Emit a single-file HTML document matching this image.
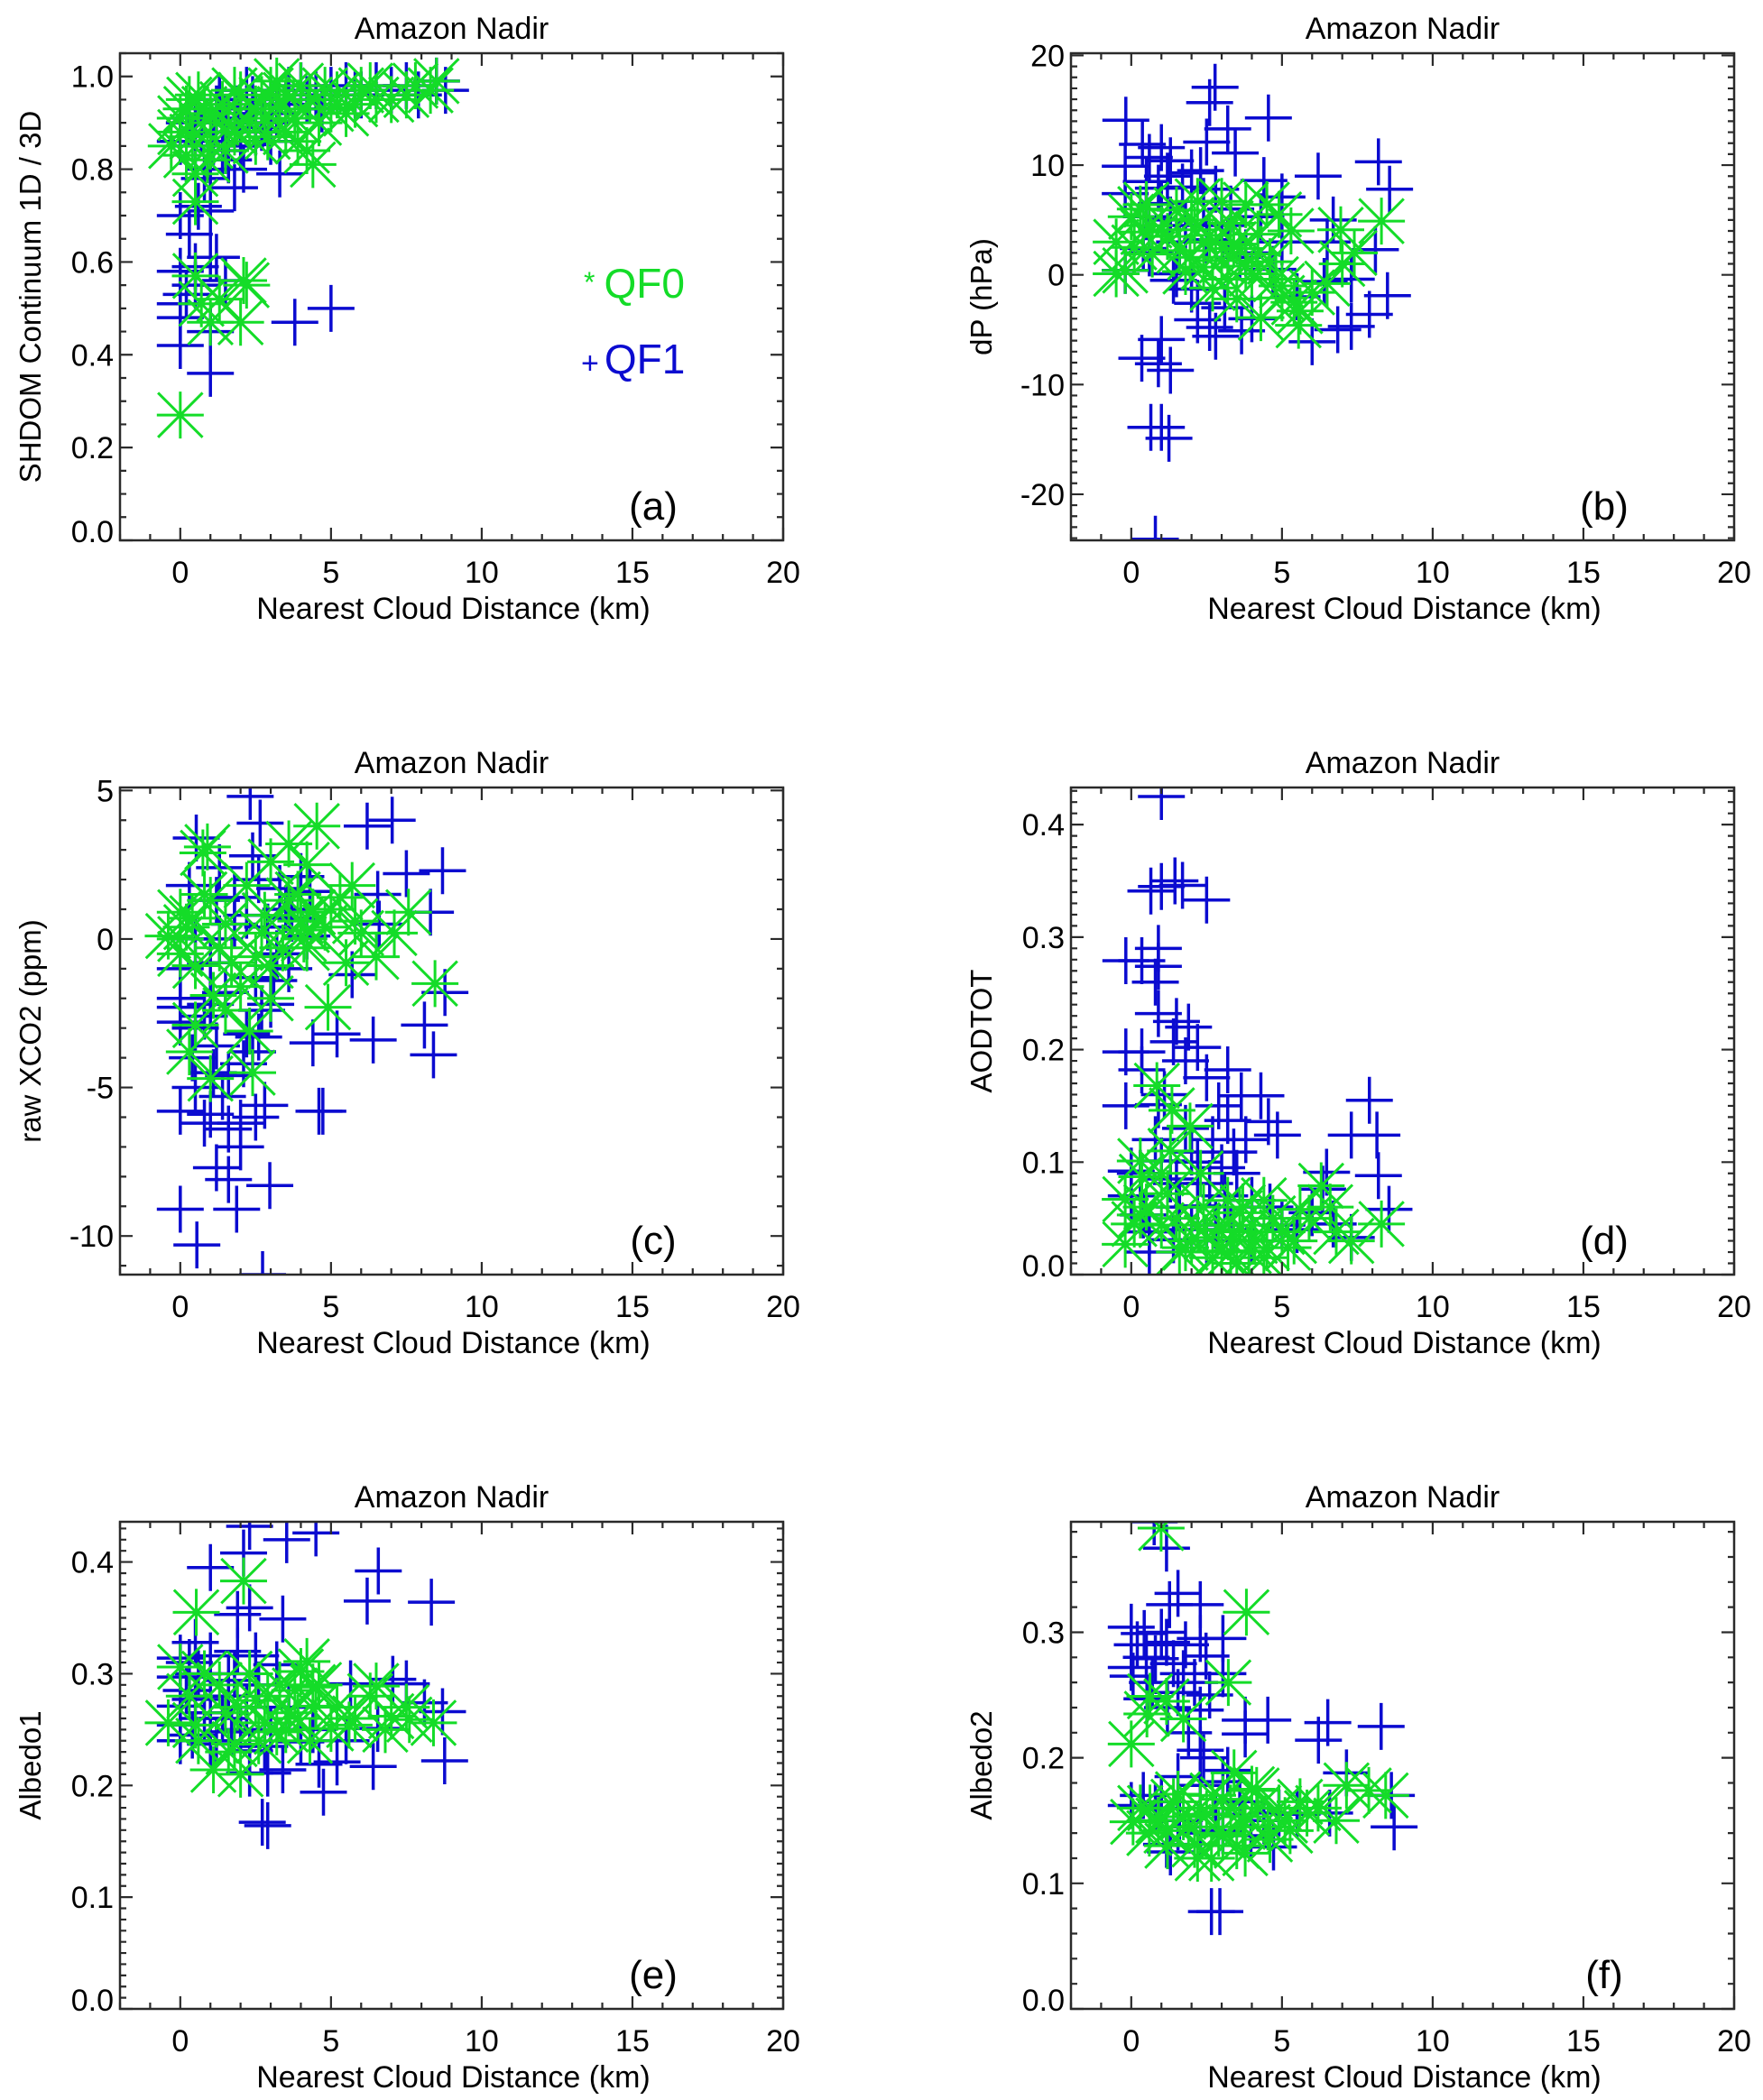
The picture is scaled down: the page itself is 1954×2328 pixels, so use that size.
<!DOCTYPE html>
<html><head><meta charset="utf-8"><title>Amazon Nadir panels</title>
<style>
html,body{margin:0;padding:0;background:#fff;}
svg{display:block;font-family:"Liberation Sans",Arial,sans-serif;}
</style></head>
<body>
<svg id="fig" width="1954" height="2328" viewBox="0 0 1954 2328" xmlns="http://www.w3.org/2000/svg"></svg>
<script>
// ---------- data ----------
const xTicks = [0, 5, 10, 15, 20];
const xRange = [-2, 20];

// panel (a) SHDOM Continuum 1D/3D
const aQF0x = [0,0,0,-0.3,0.2,0.5,0.5,0.3,0.5,0.7,1,1.3,2,2.1,2.2,1,1.5,2,2.5,3,3.5,4,4.4,4.2,3.5,5,5.5,6,7,7.5,8.5,8.3,2.8,3.2,4.8,1.2,1.8,2.5,0.8,6.5,
  0.2,0.6,1.0,1.4,1.8,2.3,2.7,3.3,3.8,4.3,4.6,5.2,5.8,6.3,0.4,0.9,1.6,2.9,3.9,7.8];
const aQF0y = [0.27,0.88,0.91,0.85,0.83,0.79,0.73,0.95,0.57,0.51,0.47,0.52,0.47,0.56,0.55,0.85,0.84,0.96,0.93,0.97,0.96,0.98,0.81,0.84,0.88,0.93,0.92,0.97,0.95,0.96,0.99,0.97,0.91,0.99,0.97,0.9,0.88,0.86,0.93,0.95,
  0.93,0.96,0.92,0.94,0.97,0.90,0.95,0.93,0.91,0.95,0.90,0.96,0.94,0.98,0.87,0.82,0.90,0.87,0.86,0.98];
const aQF1x = [0,0,0,0,0.3,0.5,0,1,1,1.5,0.5,3.8,5,0,0.5,1,1.5,2,2.5,3,3.5,1.2,2,2.5,3.3,0.8,1.6,4,4.5,5.5,6.5,7,8.5,8.8,6,3,2.2,1.8,0.5,1,4.7,2.7,1.3,
  0.3,0.7,1.1,1.5,1.9,2.4,2.8,3.2,3.6,4.2,5,5.8,7.5,1.4,2.1,0.6,1.2,0.2,1.0,7.9];
const aQF1y = [0.58,0.51,0.48,0.42,0.66,0.55,0.7,0.36,0.61,0.56,0.59,0.47,0.5,0.86,0.85,0.80,0.88,0.90,0.92,0.95,0.94,0.93,0.85,0.88,0.79,0.78,0.82,0.98,0.96,0.98,0.98,0.97,0.99,0.97,0.96,0.86,0.97,0.76,0.91,0.71,0.93,0.89,0.95,
  0.9,0.88,0.86,0.91,0.93,0.95,0.9,0.92,0.97,0.95,0.97,0.96,0.98,0.84,0.8,0.72,0.61,0.53,0.45,0.96];
const aYTicks = [0.0,0.2,0.4,0.6,0.8,1.0];
const aYLabels = ["0.0","0.2","0.4","0.6","0.8","1.0"];

// panel (b) dP (hPa)
const bQF0x = [0.4,0,-0.5,-0.2,1.95,1.0,2.2,3.0,3.8,4.5,3.6,4.2,5.3,6.95,8.3,7.4,4.3,5.55,5.0,6.0,2.8,1.5,0.5,3.2,2.4,4.0,4.8,0.7,-0.5,3.3,2.1,5.6,
  0.1,0.6,1.2,1.6,2.0,2.6,3.0,3.4,3.8,4.2,4.6,5.0,5.4,2.7,3.5,1.8,0.3,4.9,6.5,7.0];
const bQF0y = [3.9,5.3,3.0,0.4,1.6,4.1,6.7,6.7,6.4,6.4,2.4,1.9,4.0,4.1,4.9,2.0,-3.9,-4.6,-2.1,-1.6,3.0,5.9,6.4,-0.4,0.7,0.1,-0.4,1.9,0.1,4.7,4.1,-3.3,
  2.5,4.5,3.5,2.2,5.0,3.6,1.3,2.8,0.8,3.7,1.2,-1.0,-2.5,-1.2,-2.2,0.3,6.0,5.5,-0.8,1.0];
const bQF1x = [2.78,2.6,4.55,-0.18,3.2,0.37,1.0,0.6,2.5,3.45,-0.2,2.0,6.2,8.2,8.57,1.3,4.4,5.0,0.9,-0.2,2.4,6.7,3.2,8.1,7.3,6.4,-0.2,1.5,2.0,7.9,8.5,7.3,6.85,6.0,3.66,2.2,2.8,1.0,0.35,0.9,1.3,0.65,1.0,1.25,0.8,4.3,1.3,1.6,0.4,3.6,5.0,0.5,
  0.5,1.2,1.7,2.3,2.8,3.3,1.0,1.8,2.5,3.0,3.8,4.7,1.4,2.2,2.6,3.1,0.6,5.5,6.5,4.0];
const bQF1y = [17.1,15.7,14.3,14.1,13.3,11.9,11.6,10.7,12.1,11.1,9.9,9.3,9.0,10.3,7.8,10.4,8.6,7.1,7.9,7.4,6.7,5.0,3.0,2.3,-0.4,-0.6,0.4,0.1,-1.3,-3.6,-1.9,-4.7,-5.0,-6.1,-5.1,-4.1,-5.6,-5.9,-7.6,-8.1,-8.7,-13.9,-13.9,-14.9,-24.1,5.3,5.0,3.0,2.4,1.6,3.0,5.3,
  8.5,9.0,8.0,9.5,7.8,6.0,6.5,4.5,3.2,4.5,2.0,0.5,-0.5,-2.6,-4.8,-3.0,2.0,-2.0,3.0,-4.0];
const bYTicks = [-20,-10,0,10,20];
const bYLabels = ["-20","-10","0","10","20"];

// panel (c) raw XCO2 (ppm)
const cQF0x = [4.53,0.75,4.2,5.7,7.57,0,-0.4,0,0.4,1.0,4.0,4.2,5.0,5.8,7.1,6.5,5.5,8.45,4.9,4.2,3.0,2.0,1.5,0.3,2.4,1.0,3.0,2.7,3.6,0.5,1.3,0,
  0.2,0.8,1.5,2.2,2.8,3.4,3.9,4.4,4.8,5.3,1.7,1.1,0.5,2.3,3.0,6.0,0.9,3.6,4.1,2.5];
const cQF0y = [3.8,2.9,2.5,1.8,0.9,0.9,0.1,-0.5,0.7,1.3,0.6,0.3,1.0,0.6,0.2,-0.6,-0.8,-1.5,-2.3,-0.3,-0.9,-1.6,-2.4,-3.8,-4.5,-4.7,2.6,0.2,1.3,-0.9,-0.3,0.0,
  0.4,1.5,0.5,1.8,0.8,-0.3,1.5,0.9,0.4,1.4,-0.8,-1.9,-2.9,-3.1,-2.0,0.2,3.1,3.2,0.0,-0.6];
const cQF1x = [2.32,2.65,0.53,6.2,7.03,7.5,8.7,8.3,6.55,8.78,8.1,8.4,6.4,5.2,4.4,4.6,4.73,2.97,1.6,1.2,0,1.87,0.55,2.73,0,1.0,1.6,2.0,2.8,0.5,1.1,2.4,0.5,0,0,1.0,2.2,1.5,2.5,3.6,5.7,6.6,3.2,4.0,2.6,1.8,1.2,3.3,3.7,0.5,4.2,2.2,0.0,1.3,2.7,
  0,0.4,0.8,1.2,1.6,2.1,2.6,3.0,1.4,0.8,2.0,2.5,1.0,1.8,2.9,3.5,4.3,0.3,2.4,3.1,1.3];
const cQF1y = [4.8,3.9,3.4,3.8,4.0,2.2,2.3,0.9,1.5,-1.8,-2.9,-3.9,-3.4,-3.2,-3.5,-5.8,-5.8,-8.3,-8.1,-7.7,-9.1,-9.1,-10.3,-11.3,-5.8,-5.9,-6.4,-6.2,-5.6,-5.0,-4.5,-3.8,-3.0,-2.3,-2.8,-2.2,-3.2,-1.8,-1.3,-1.0,-1.2,0.5,-0.5,2.1,2.0,1.4,1.3,1.7,0.7,0.0,0.1,0.8,-1.0,0.0,-2.4,
  -2.0,-4.0,-2.6,-3.6,-4.6,-4.2,-3.3,-2.2,-5.3,-6.2,-7.0,-6.0,-0.8,0.5,0.4,1.0,1.6,1.8,2.8,-1.4,2.4];
const cYTicks = [-10,-5,0,5];
const cYLabels = ["-10","-5","0","5"];

// panel (d) AODTOT
const dQF0x = [0.85,1.35,1.95,0.35,-0.2,0.3,-0.2,1.8,2.5,3.4,3.9,3.6,4.0,4.4,5.6,6.3,7.3,8.3,5.0,4.5,3.0,1.0,1.2,3.2,2.2,5.2,6.8,0.3,
  0.5,1.0,1.5,2.0,2.4,2.9,3.3,3.7,4.1,4.7,5.4,5.9,1.6,2.7,3.5,0.1,1.3,2.3,6.6,4.4];
const dQF0y = [0.168,0.146,0.132,0.087,0.067,0.053,0.027,0.024,0.033,0.038,0.021,0.055,0.044,0.066,0.058,0.079,0.030,0.045,0.038,0.024,0.021,0.044,0.072,0.066,0.044,0.024,0.038,0.101,
  0.06,0.09,0.05,0.03,0.06,0.04,0.02,0.06,0.03,0.05,0.03,0.05,0.02,0.015,0.01,0.045,0.11,0.09,0.06,0.015];
const dQF1x = [1.0,1.0,0.65,1.45,1.7,2.5,-0.18,0.35,0.9,0.8,0.9,0.9,1.5,1.9,1.4,2.2,-0.18,0.35,0.35,3.2,2.5,4.3,3.65,-0.18,0.9,3.2,4.85,4.55,7.9,7.3,8.15,8.2,8.55,6.48,6.35,6.7,6.0,7.3,5.0,4.0,3.0,2.0,1.0,0,0,0.6,1.4,2.6,2.2,3.4,1.5,0.4,2.8,
  0.3,0.8,1.3,1.8,2.2,2.7,3.1,3.5,1.6,2.0,2.5,3.3,4.0,4.6,5.5,0.6,1.1,1.8,2.9,3.8];
const dQF1y = [0.425,0.345,0.341,0.35,0.346,0.333,0.279,0.279,0.274,0.26,0.29,0.232,0.225,0.22,0.207,0.202,0.198,0.198,0.182,0.182,0.175,0.159,0.159,0.150,0.151,0.137,0.124,0.136,0.155,0.124,0.124,0.088,0.058,0.091,0.076,0.045,0.055,0.033,0.044,0.066,0.095,0.109,0.101,0.092,0.07,0.038,0.031,0.081,0.061,0.109,0.081,0.053,0.044,
  0.09,0.12,0.085,0.13,0.1,0.12,0.07,0.09,0.06,0.04,0.03,0.04,0.03,0.06,0.04,0.02,0.16,0.19,0.15,0.12];
const dYTicks = [0.0,0.1,0.2,0.3,0.4];
const dYLabels = ["0.0","0.1","0.2","0.3","0.4"];

// panel (e) Albedo1
const eQF0x = [2.1,0.53,0,-0.4,1.1,0.5,4.2,3.8,6.5,7.6,8.4,5.6,4.5,5.0,2.5,3.6,1.8,3.2,4.0,7.0,1.5,2.8,4.4,
  0.3,0.8,1.3,1.9,2.3,2.9,3.3,3.9,4.6,5.2,5.8,6.3,0.6,1.6,2.6,3.5,4.3,6.8,7.5,2.0];
const eQF0y = [0.383,0.355,0.306,0.256,0.214,0.254,0.311,0.285,0.289,0.259,0.256,0.254,0.271,0.251,0.276,0.265,0.237,0.248,0.302,0.262,0.265,0.256,0.288,
  0.28,0.3,0.29,0.27,0.3,0.28,0.29,0.26,0.29,0.27,0.26,0.28,0.24,0.23,0.24,0.25,0.24,0.25,0.27,0.21];
const eQF1x = [2.3,3.53,4.5,2.1,1.0,6.57,6.2,8.33,3.4,1.9,2.3,0.5,0,1.0,2.5,3.2,0,0,0,1.0,1.7,2.3,2.9,3.4,2.3,4.0,4.6,4.75,5.2,6.4,5.65,7.05,7.5,8.1,8.7,8.77,6.55,2.72,2.9,1.6,1.0,0.5,
  0.2,0.6,1.0,1.4,1.8,2.2,2.6,3.0,0.4,1.2,2.0,3.6,0,0.8,1.6,2.8,4.4,0.3,1.9,5.5];
const eQF1y = [0.432,0.42,0.426,0.408,0.395,0.392,0.365,0.364,0.349,0.353,0.359,0.328,0.314,0.316,0.316,0.308,0.297,0.271,0.254,0.265,0.248,0.231,0.211,0.214,0.211,0.239,0.219,0.194,0.221,0.217,0.291,0.295,0.291,0.274,0.266,0.222,0.251,0.167,0.164,0.294,0.237,0.277,
  0.285,0.3,0.28,0.26,0.3,0.27,0.29,0.25,0.245,0.24,0.25,0.27,0.24,0.26,0.28,0.235,0.25,0.31,0.32,0.24];
const eYTicks = [0.0,0.1,0.2,0.3,0.4];
const eYLabels = ["0.0","0.1","0.2","0.3","0.4"];

// panel (f) Albedo2
const fQF0x = [0.99,3.82,0,0.52,0.62,1.17,1.73,3.22,0.06,0.62,1.17,2.1,2.29,3.04,3.78,3.78,4.9,5.83,7.14,8.44,3.04,4.53,1.73,1.55,4.16,2.66,5.27,7.88,3.41,
  0.3,0.9,1.4,1.9,2.5,2.9,3.3,3.7,4.2,4.6,5.1,5.6,6.2,2.2,3.5,4.0,0.6,1.2,6.8,2.7];
const fQF0y = [0.383,0.316,0.211,0.235,0.249,0.245,0.231,0.26,0.149,0.160,0.142,0.131,0.160,0.167,0.153,0.124,0.160,0.156,0.178,0.170,0.138,0.145,0.153,0.171,0.174,0.12,0.142,0.174,0.188,
  0.16,0.15,0.165,0.145,0.155,0.14,0.16,0.145,0.16,0.135,0.15,0.165,0.16,0.12,0.13,0.175,0.14,0.13,0.15,0.17];
const fQF1x = [0.76,1.17,1.55,1.27,2.29,0,0.43,1.17,2.29,3.04,0,0.06,0.8,1.73,2.48,3.04,0.52,1.55,2.29,3.78,4.53,3.78,6.52,6.21,8.29,1.55,3.04,2.29,0,0.8,1.55,3.04,3.97,4.9,6.58,7.14,8.63,8.72,4.72,2.66,2.94,1.17,2.29,
  0.2,0.5,1.0,1.4,1.8,2.1,2.6,0.7,1.2,1.9,2.4,3.2,0.4,1.0,1.6,2.3,2.8,3.6,4.4,5.5,1.3];
const fQF1y = [0.388,0.367,0.331,0.322,0.322,0.304,0.299,0.292,0.295,0.295,0.272,0.265,0.279,0.267,0.281,0.267,0.247,0.252,0.238,0.23,0.23,0.219,0.228,0.214,0.225,0.185,0.181,0.178,0.162,0.160,0.145,0.142,0.138,0.156,0.156,0.188,0.170,0.145,0.129,0.0775,0.0775,0.131,0.206,
  0.29,0.28,0.3,0.275,0.29,0.26,0.25,0.26,0.24,0.22,0.2,0.19,0.17,0.165,0.15,0.14,0.155,0.165,0.15,0.155,0.125];
const fYTicks = [0.0,0.1,0.2,0.3];
const fYLabels = ["0.0","0.1","0.2","0.3"];

// ---------- rendering ----------
const NS = "http://www.w3.org/2000/svg";
const svg = document.getElementById("fig");
const GREEN = "#14dc28", BLUE = "#0b0bd0", AX = "#2a2a2a";
function mk(tag, parent) { const e = document.createElementNS(NS, tag); parent.appendChild(e); return e; }

const panels = [
  {id:"a", left:133, top:59, ymin:0, ymax:1.05, minor:0.05, yt:aYTicks, yl:aYLabels, ytitle:"SHDOM Continuum 1D / 3D", g:[aQF0x,aQF0y], b:[aQF1x,aQF1y], legend:true},
  {id:"b", left:1187, top:59, ymin:-24.2, ymax:20.2, minor:1, yt:bYTicks, yl:bYLabels, ytitle:"dP (hPa)", g:[bQF0x,bQF0y], b:[bQF1x,bQF1y]},
  {id:"c", left:133, top:873, ymin:-11.3, ymax:5.1, minor:1, yt:cYTicks, yl:cYLabels, ytitle:"raw XCO2 (ppm)", g:[cQF0x,cQF0y], b:[cQF1x,cQF1y]},
  {id:"d", left:1187, top:873, ymin:0, ymax:0.433, minor:0.01, yt:dYTicks, yl:dYLabels, ytitle:"AODTOT", g:[dQF0x,dQF0y], b:[dQF1x,dQF1y]},
  {id:"e", left:133, top:1687, ymin:0, ymax:0.436, minor:0.01, yt:eYTicks, yl:eYLabels, ytitle:"Albedo1", g:[eQF0x,eQF0y], b:[eQF1x,eQF1y]},
  {id:"f", left:1187, top:1687, ymin:0, ymax:0.388, minor:0.02, yt:fYTicks, yl:fYLabels, ytitle:"Albedo2", g:[fQF0x,fQF0y], b:[fQF1x,fQF1y]}
];
const W = 735, H = 540, MS = 26, SW = 3.5;

panels.forEach(p => {
  const g = mk("g", svg);
  
  
  const L = p.left, T = p.top, R = L + W, B = T + H;
  const sx = v => L + (v - xRange[0]) / (xRange[1] - xRange[0]) * W;
  const sy = v => B - (v - p.ymin) / (p.ymax - p.ymin) * H;

  const cp = mk("clipPath", g); cp.setAttribute("id", "clip-" + p.id);
  const cr = mk("rect", cp); cr.setAttribute("x", L); cr.setAttribute("y", T); cr.setAttribute("width", W); cr.setAttribute("height", H);

  const t = mk("text", g);
  
  
  t.setAttribute("x", L + W / 2); t.setAttribute("y", T - 16); t.setAttribute("text-anchor", "middle"); t.setAttribute("font-size", "34");
  t.textContent = "Amazon Nadir";

  const mg = mk("g", g); mg.setAttribute("clip-path", "url(#clip-" + p.id + ")");
  
  
  p.b[0].forEach((xv, i) => {
    const cx = sx(xv), cy = sy(p.b[1][i]);
    const m = mk("path", mg);
    
    
    m.setAttribute("d", `M${cx-MS} ${cy}H${cx+MS}M${cx} ${cy-MS}V${cy+MS}`);
    m.setAttribute("stroke", BLUE); m.setAttribute("stroke-width", SW); m.setAttribute("fill", "none");
  });
  const d = MS * 0.95;
  p.g[0].forEach((xv, i) => {
    const cx = sx(xv), cy = sy(p.g[1][i]);
    const m = mk("path", mg);
    
    
    m.setAttribute("d", `M${cx-MS} ${cy}H${cx+MS}M${cx} ${cy-MS}V${cy+MS}M${cx-d} ${cy-d}L${cx+d} ${cy+d}M${cx-d} ${cy+d}L${cx+d} ${cy-d}`);
    m.setAttribute("stroke", GREEN); m.setAttribute("stroke-width", SW - 0.5); m.setAttribute("fill", "none");
  });

  const fr = mk("rect", g);
  
  
  fr.setAttribute("x", L); fr.setAttribute("y", T); fr.setAttribute("width", W); fr.setAttribute("height", H);
  fr.setAttribute("fill", "none"); fr.setAttribute("stroke", AX); fr.setAttribute("stroke-width", "2.5");

  let td = "";
  for (let v = xRange[0]; v <= xRange[1] + 1e-9; v += 1) {
    const X = sx(v), len = (Math.round(v) % 5 === 0) ? 14 : 7;
    td += `M${X} ${B}V${B-len}M${X} ${T}V${T+len}`;
  }
  const nMin = Math.round((p.ymax - p.ymin) / p.minor) + 2;
  const start = Math.ceil(p.ymin / p.minor - 1e-6);
  for (let k = start; k < start + nMin; k++) {
    const v = k * p.minor;
    if (v > p.ymax + 1e-9) break;
    const Y = sy(v);
    const isMaj = p.yt.some(tv => Math.abs(tv - v) < p.minor * 0.01);
    const len = isMaj ? 14 : 7;
    td += `M${L} ${Y}H${L+len}M${R} ${Y}H${R-len}`;
  }
  const tk = mk("path", g);
  
  
  tk.setAttribute("d", td); tk.setAttribute("stroke", AX); tk.setAttribute("stroke-width", "2.2"); tk.setAttribute("fill", "none");

  xTicks.forEach(v => {
    const tl = mk("text", g);
    
    
    tl.setAttribute("x", sx(v)); tl.setAttribute("y", B + 47); tl.setAttribute("text-anchor", "middle"); tl.setAttribute("font-size", "34");
    tl.textContent = String(v);
  });
  p.yt.forEach((v, i) => {
    const tl = mk("text", g);
    
    
    const Y = Math.min(sy(v), B - 10);
    tl.setAttribute("x", L - 7); tl.setAttribute("y", Y + 12); tl.setAttribute("text-anchor", "end"); tl.setAttribute("font-size", "34");
    tl.textContent = p.yl[i];
  });
  const xt = mk("text", g);
  
  
  xt.setAttribute("x", L + W / 2 + 2); xt.setAttribute("y", B + 87); xt.setAttribute("text-anchor", "middle"); xt.setAttribute("font-size", "34");
  xt.textContent = "Nearest Cloud Distance (km)";
  const yt = mk("text", g);
  
  
  const yx = L - 88, yy = T + H / 2;
  yt.setAttribute("x", yx); yt.setAttribute("y", yy); yt.setAttribute("text-anchor", "middle"); yt.setAttribute("font-size", "33");
  yt.setAttribute("transform", `rotate(-90 ${yx} ${yy})`);
  yt.textContent = p.ytitle;
  const pl = mk("text", g);
  
  
  pl.setAttribute("x", L + 591); pl.setAttribute("y", B - 23); pl.setAttribute("text-anchor", "middle"); pl.setAttribute("font-size", "44");
  pl.textContent = "(" + p.id + ")";

  if (p.legend) {
    const l0 = mk("text", g);
    
    
    l0.setAttribute("x", 647); l0.setAttribute("y", 330); l0.setAttribute("font-size", "46"); l0.setAttribute("fill", GREEN);
    l0.innerHTML = '<tspan font-size="32" dy="-6">*</tspan><tspan dx="10" dy="6">QF0</tspan>';
    const l1 = mk("text", g);
    
    
    l1.setAttribute("x", 644); l1.setAttribute("y", 414); l1.setAttribute("font-size", "46"); l1.setAttribute("fill", BLUE);
    l1.innerHTML = '<tspan font-size="34">+</tspan><tspan dx="6">QF1</tspan>';
  }
});
</script>
</body></html>
